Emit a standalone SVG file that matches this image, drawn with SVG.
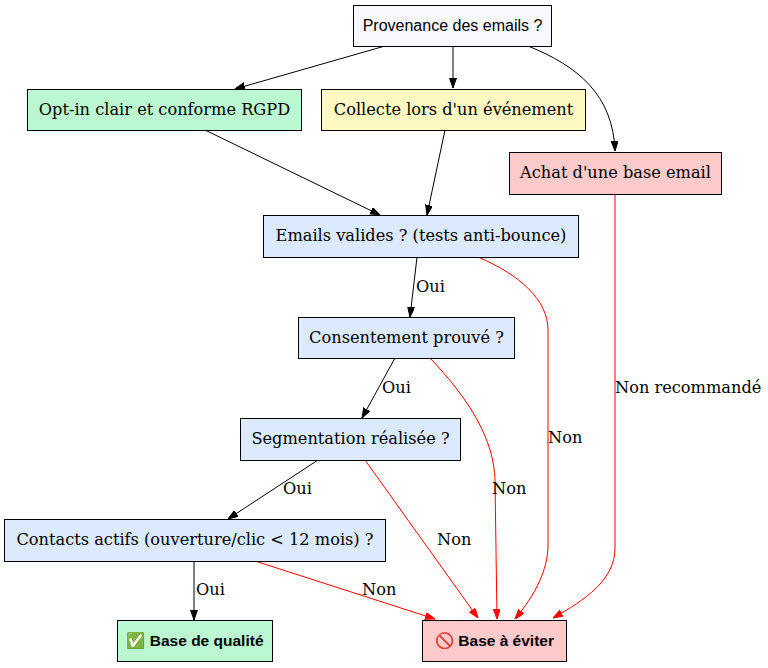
<svg xmlns="http://www.w3.org/2000/svg" width="768" height="668" viewBox="0 0 768 668">
<style>
.n rect{stroke:#000;stroke-width:1}
.s{font-family:"DejaVu Serif",serif;font-size:16.2px;fill:#000;text-anchor:middle}
.l{font-family:"DejaVu Serif",serif;font-size:16.2px;fill:#000}
.h{font-family:"Liberation Sans",Arial,sans-serif;font-size:16px;fill:#000;text-anchor:middle}
.b{font-family:"Liberation Sans",Arial,sans-serif;font-size:15.5px;font-weight:bold;fill:#000;text-anchor:middle}
.e{fill:none;stroke:#000;stroke-width:1}
.r{fill:none;stroke:#ff0000;stroke-width:1}
</style>
<defs>
<marker id="ak" markerWidth="10" markerHeight="8" refX="10" refY="3.5" orient="auto" markerUnits="userSpaceOnUse"><path d="M0,0 L10,3.5 L0,7 z" fill="#000" stroke="#000"/></marker>
<marker id="ar" markerWidth="10" markerHeight="8" refX="10" refY="3.5" orient="auto" markerUnits="userSpaceOnUse"><path d="M0,0 L10,3.5 L0,7 z" fill="#ff0000" stroke="#ff0000"/></marker>
</defs>
<rect width="768" height="668" fill="#fff"/>
<g id="connectors">
<path class="e" d="M385,46 L235,89" marker-end="url(#ak)"/>
<path class="e" d="M453,46 L453,88" marker-end="url(#ak)"/>
<path class="e" d="M528,46 C578,66 613,95 615,151" marker-end="url(#ak)"/>
<path class="e" d="M205,130 L380,215" marker-end="url(#ak)"/>
<path class="e" d="M445,130 L427,215" marker-end="url(#ak)"/>
<path class="r" d="M615,194 L615,548 C615,580 585,600 553,618" marker-end="url(#ar)"/>
<path class="e" d="M417,257 L410,317" marker-end="url(#ak)"/>
<path class="r" d="M478,257 C520,275 548,300 548,330 L548,545 C548,570 535,595 515,619" marker-end="url(#ar)"/>
<path class="e" d="M395,358 L362,418" marker-end="url(#ak)"/>
<path class="r" d="M430,358 C470,400 494,440 495,480 L497,619" marker-end="url(#ar)"/>
<path class="e" d="M318,460 L228,519" marker-end="url(#ak)"/>
<path class="r" d="M365,460 L478,618" marker-end="url(#ar)"/>
<path class="e" d="M194,561 L194,620" marker-end="url(#ak)"/>
<path class="r" d="M255,561 L435,619" marker-end="url(#ar)"/>
<text class="l" x="615" y="393">Non recommandé</text>
<text class="l" x="416" y="292">Oui</text>
<text class="l" x="548" y="443">Non</text>
<text class="l" x="382" y="393">Oui</text>
<text class="l" x="492" y="494">Non</text>
<text class="l" x="283" y="494">Oui</text>
<text class="l" x="437" y="545">Non</text>
<text class="l" x="196" y="595">Oui</text>
<text class="l" x="362" y="595">Non</text>
</g>
<g id="provenance" class="n"><rect x="353.5" y="5.5" width="198" height="41" fill="#f8f8ff"/><text class="h" x="452.5" y="31">Provenance des emails ?</text></g>
<g id="optin" class="n"><rect x="27.5" y="89.5" width="274" height="41" fill="#bbf7d0"/><text class="s" x="164.5" y="115">Opt-in clair et conforme RGPD</text></g>
<g id="collecte" class="n"><rect x="321.5" y="89.5" width="264" height="41" fill="#fef9c3"/><text class="s" x="453.5" y="115">Collecte lors d'un événement</text></g>
<g id="achat" class="n"><rect x="509.5" y="152.5" width="212" height="42" fill="#fecaca"/><text class="s" x="615.5" y="178">Achat d'une base email</text></g>
<g id="valides" class="n"><rect x="263.5" y="215.5" width="315" height="42" fill="#dbeafe"/><text class="s" x="421" y="241">Emails valides ? (tests anti-bounce)</text></g>
<g id="consentement" class="n"><rect x="298.5" y="317.5" width="216" height="41" fill="#dbeafe"/><text class="s" x="406.5" y="343">Consentement prouvé ?</text></g>
<g id="segmentation" class="n"><rect x="240.5" y="418.5" width="220" height="42" fill="#dbeafe"/><text class="s" x="350.5" y="444">Segmentation réalisée ?</text></g>
<g id="contacts" class="n"><rect x="4.5" y="519.5" width="381" height="42" fill="#dbeafe"/><text class="s" x="195" y="545">Contacts actifs (ouverture/clic &lt; 12 mois) ?</text></g>
<g id="qualite" class="n"><rect x="117.5" y="620.5" width="155" height="41" fill="#bbf7d0"/><text class="b" x="195" y="646">✅ Base de qualité</text></g>
<g id="eviter" class="n"><rect x="422.5" y="620.5" width="144" height="41" fill="#fecaca"/><text class="b" x="494.5" y="646">🚫 Base à éviter</text></g>
</svg>
